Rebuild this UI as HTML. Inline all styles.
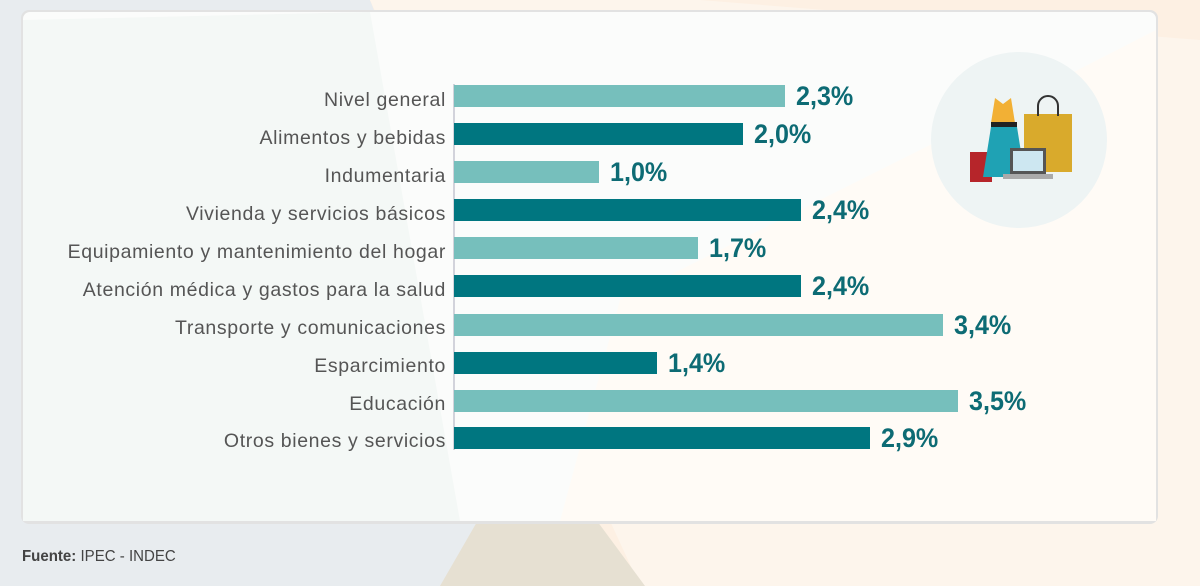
<!DOCTYPE html>
<html><head><meta charset="utf-8"><style>
*{margin:0;padding:0}
body{width:1200px;height:586px;overflow:hidden;position:relative;background:#e8ecef;font-family:"Liberation Sans",sans-serif}
.lbl{position:absolute;right:754px;font-size:19.5px;letter-spacing:0.63px;color:#555;white-space:nowrap;line-height:22px}
.bar{position:absolute;left:454px;height:22px}
.val{position:absolute;font-size:27px;font-weight:bold;color:#0d6b74;line-height:22px;white-space:nowrap;transform:scaleX(0.93);transform-origin:left center}
</style></head><body>
<svg style="position:absolute;left:0;top:0" width="1200" height="586">
<polygon points="370,0 1200,0 1200,586 600,586" fill="#fdf0e3"/>
<polygon points="370,0 700,0 1200,40 1200,586 640,586" fill="#fdf5ec"/>
<polygon points="530,430 440,586 645,586" fill="#e6e0d2"/>
<rect x="21" y="10" width="1137" height="514" rx="8" fill="#e2e2e2"/>
<rect x="23" y="12" width="1133" height="509" rx="7" fill="#fbfcfb"/>
<polygon points="23,20 370,12 460,521 23,521" fill="#f4f8f6"/>
<polygon points="560,521 1156,521 1156,30 980,120 620,300" fill="#fffbf6"/>
<line x1="454" y1="84" x2="454" y2="450" stroke="#aab" stroke-width="1"/>
<circle cx="1019" cy="140" r="88" fill="#eef4f4"/>
<rect x="1024" y="114" width="48" height="58" fill="#d9aa2c"/>
<path d="M1038 116 v-10 a10 10 0 0 1 20 0 v10" stroke="#333" stroke-width="2" fill="none"/>
<rect x="970" y="152" width="22" height="30" fill="#b6252a"/>
<path d="M995 98 l8 6 l8 -6 l4 25 h-24z" fill="#f2b035"/>
<rect x="991" y="122" width="26" height="5" fill="#222"/>
<path d="M991 127 h26 l8 50 h-42z" fill="#1fa2b4"/>
<rect x="1010" y="148" width="36" height="26" fill="#555"/>
<rect x="1013" y="151" width="30" height="20" fill="#cde7f1"/>
<rect x="1003" y="174" width="50" height="5" fill="#aaa"/>
</svg>
<div class="lbl" style="top:89px">Nivel general</div>
<div class="lbl" style="top:127px">Alimentos y bebidas</div>
<div class="lbl" style="top:165px">Indumentaria</div>
<div class="lbl" style="top:203px">Vivienda y servicios básicos</div>
<div class="lbl" style="top:241px">Equipamiento y mantenimiento del hogar</div>
<div class="lbl" style="top:279px">Atención médica y gastos para la salud</div>
<div class="lbl" style="top:317px">Transporte y comunicaciones</div>
<div class="lbl" style="top:355px">Esparcimiento</div>
<div class="lbl" style="top:393px">Educación</div>
<div class="lbl" style="top:430px">Otros bienes y servicios</div>

<div class="bar" style="top:85px;width:331px;background:#76bfbc"></div><div class="val" style="top:85px;left:796px">2,3%</div>
<div class="bar" style="top:123px;width:289px;background:#007680"></div><div class="val" style="top:123px;left:754px">2,0%</div>
<div class="bar" style="top:161px;width:145px;background:#76bfbc"></div><div class="val" style="top:161px;left:610px">1,0%</div>
<div class="bar" style="top:199px;width:347px;background:#007680"></div><div class="val" style="top:199px;left:812px">2,4%</div>
<div class="bar" style="top:237px;width:244px;background:#76bfbc"></div><div class="val" style="top:237px;left:709px">1,7%</div>
<div class="bar" style="top:275px;width:347px;background:#007680"></div><div class="val" style="top:275px;left:812px">2,4%</div>
<div class="bar" style="top:314px;width:489px;background:#76bfbc"></div><div class="val" style="top:314px;left:954px">3,4%</div>
<div class="bar" style="top:352px;width:203px;background:#007680"></div><div class="val" style="top:352px;left:668px">1,4%</div>
<div class="bar" style="top:390px;width:504px;background:#76bfbc"></div><div class="val" style="top:390px;left:969px">3,5%</div>
<div class="bar" style="top:427px;width:416px;background:#007680"></div><div class="val" style="top:427px;left:881px">2,9%</div>

<div style="position:absolute;left:22px;top:548px;font-size:16px;color:#444;transform:scaleX(0.94);transform-origin:left center"><b>Fuente:</b> IPEC - INDEC</div>
</body></html>
